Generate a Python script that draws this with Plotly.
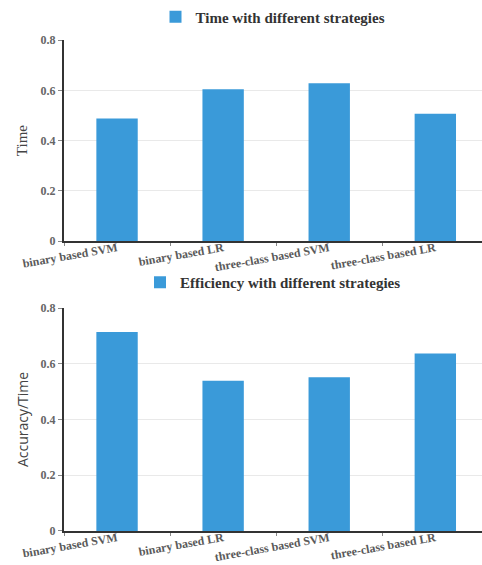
import plotly.graph_objects as go

categories = ["binary based SVM", "binary based LR", "three-class based SVM", "three-class based LR"]
time_values = [0.488, 0.604, 0.628, 0.507]
efficiency_values = [0.714, 0.539, 0.552, 0.637]
y_ticks = [0, 0.2, 0.4, 0.6, 0.8]
y_tick_labels = ["0", "0.2", "0.4", "0.6", "0.8"]

BAR = "#3A9AD9"
SERIF = "Liberation Serif, DejaVu Serif, serif"
SANS = "Open Sans, Noto Sans, sans-serif"

fig = go.Figure()
fig.add_trace(go.Bar(x=categories, y=time_values, name="<b>Time with different strategies</b>",
                     marker=dict(color=BAR, line=dict(width=0)), xaxis="x", yaxis="y", legend="legend"))
fig.add_trace(go.Bar(x=categories, y=efficiency_values, name="<b>Efficiency with different strategies</b>",
                     marker=dict(color=BAR, line=dict(width=0)), xaxis="x2", yaxis="y2", legend="legend2"))

H = 565
def dom(top_px, bot_px):
    return [1 - bot_px / H, 1 - top_px / H]

xcommon = dict(type="category", range=[-0.5, 3.44], showgrid=False, showline=True,
               linecolor="#333", linewidth=1.5, ticks="outside", tickson="boundaries",
               ticklen=3, tickcolor="#888", tickangle=-10, automargin=False,
               ticklabelstandoff=-6,
               tickfont=dict(family=SERIF, size=12, color="#5a5a5a", weight="bold"))
ycommon = dict(range=[0, 0.8], tickvals=y_ticks, ticktext=y_tick_labels, showgrid=True,
               gridcolor="#e9e9e9", gridwidth=1, showline=True, linecolor="#333", linewidth=2,
               ticks="outside", ticklen=4, tickcolor="#888", automargin=False, zeroline=False,
               tickfont=dict(family=SERIF, size=12, color="#666", weight="bold"))

fig.update_layout(
    width=482, height=565,
    margin=dict(l=64, r=0, t=0, b=0),
    paper_bgcolor="white", plot_bgcolor="white",
    bargap=0.61,
    xaxis=dict(xcommon, domain=[0, 1], anchor="y"),
    yaxis=dict(ycommon, domain=dom(37.3, 239.3), anchor="x",
               title=dict(text="Time", standoff=9, font=dict(family=SERIF, size=15, color="#444"))),
    xaxis2=dict(xcommon, domain=[0, 1], anchor="y2"),
    yaxis2=dict(ycommon, domain=dom(306.7, 530.7), anchor="x2",
                title=dict(text="Accuracy/Time", standoff=9, font=dict(family=SANS, size=14, color="#444"))),
    legend=dict(x=0.5, xanchor="center", y=1 - 14 / H, yanchor="middle", orientation="h",
                font=dict(family=SERIF, size=15, color="#333"), bgcolor="rgba(0,0,0,0)",
                itemwidth=30),
    legend2=dict(x=0.5, xanchor="center", y=1 - 281 / H, yanchor="middle", orientation="h",
                 font=dict(family=SERIF, size=15, color="#333"), bgcolor="rgba(0,0,0,0)",
                 itemwidth=30),
    showlegend=True,
)

fig.write_html("out.html", config={"displayModeBar": False},
               post_script="document.body.style.margin='0';")
